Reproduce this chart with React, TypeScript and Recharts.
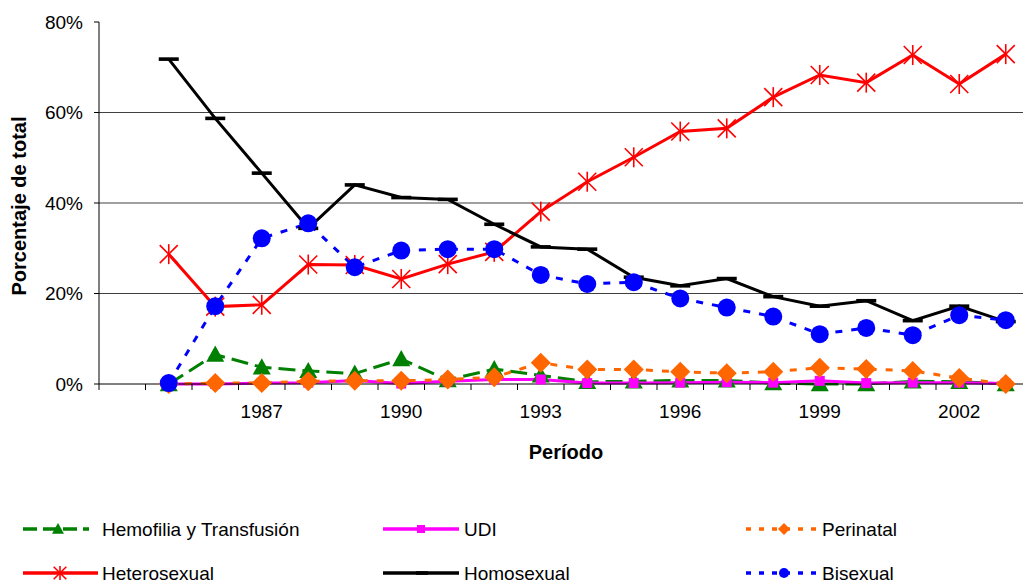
import React from 'react';
import { LineChart, Line, XAxis, YAxis, CartesianGrid } from 'recharts';

const YEARS = [1985, 1986, 1987, 1988, 1989, 1990, 1991, 1992, 1993, 1994, 1995, 1996, 1997, 1998, 1999, 2000, 2001, 2002, 2003];
const LABEL_YEARS = [1987, 1990, 1993, 1996, 1999, 2002];
const Y_TICKS = [0, 20, 40, 60, 80];
const GRID_VALUES = [20, 40, 60];

const HEMOFILIA = [0, 6.5, 3.7, 2.9, 2.3, 5.5, 0.9, 3.3, 1.9, 0.5, 0.6, 0.8, 0.8, 0.2, 0, 0, 0.6, 0.5, 0];
const UDI = [0, 0, 0.2, 0.3, 0.8, 0.1, 0.6, 1.0, 1.0, 0.2, 0.2, 0.3, 0.4, 0.3, 0.7, 0.2, 0.3, 0.3, 0.1];
const PERINATAL = [0, 0.2, 0.2, 0.6, 0.7, 0.7, 1.0, 1.5, 4.7, 3.2, 3.2, 2.7, 2.4, 2.7, 3.6, 3.3, 2.9, 1.3, 0];
const HETEROSEXUAL = [28.7, 17.1, 17.5, 26.4, 26.3, 23.2, 26.5, 29.2, 38.1, 44.7, 50.1, 55.8, 56.5, 63.4, 68.3, 66.6, 72.7, 66.3, 72.9];
const HOMOSEXUAL = [71.8, 58.7, 46.6, 34.4, 44.0, 41.2, 40.8, 35.3, 30.3, 29.8, 23.6, 21.7, 23.3, 19.3, 17.2, 18.4, 14.0, 17.2, 13.8];
const BISEXUAL = [0.2, 17.2, 32.2, 35.5, 25.8, 29.5, 29.8, 29.8, 24.1, 22.1, 22.5, 18.9, 16.9, 14.9, 11.0, 12.4, 10.8, 15.2, 14.1];

const data = YEARS.map((year, i) => ({
  year,
  hemofilia: HEMOFILIA[i],
  udi: UDI[i],
  perinatal: PERINATAL[i],
  hetero: HETEROSEXUAL[i],
  homo: HOMOSEXUAL[i],
  bi: BISEXUAL[i],
}));

const FONT = '"Liberation Sans", Arial, sans-serif';
const GREEN = '#008000';
const MAGENTA = '#FF00FF';
const ORANGE = '#FF6600';
const RED = '#FF0000';
const BLUE = '#0000FF';

// category boundaries (Excel-style ticks between categories)
const X_MIN = YEARS[0] - 1.5;
const X_MAX = YEARS[YEARS.length - 1] + 0.5;
const BOUNDARIES = Array.from({ length: X_MAX - X_MIN + 1 }, (_, i) => X_MIN + i);
const CAT_W = 46.5;

const Triangle = ({ cx, cy, s = 9, color = GREEN }: any) => (
  <polygon points={`${cx},${cy - s} ${cx - s},${cy + s * 0.8} ${cx + s},${cy + s * 0.8}`} fill={color} />
);
const Square = ({ cx, cy, s = 5 }: any) => <rect x={cx - s} y={cy - s} width={s * 2} height={s * 2} fill={MAGENTA} />;
const Diamond = ({ cx, cy, s = 10 }: any) => (
  <polygon points={`${cx},${cy - s} ${cx + s},${cy} ${cx},${cy + s} ${cx - s},${cy}`} fill={ORANGE} />
);
const Star = ({ cx, cy, s = 10 }: any) => (
  <g stroke={RED} strokeWidth={1.6}>
    <line x1={cx} y1={cy - s} x2={cx} y2={cy + s} />
    <line x1={cx - s * 0.9} y1={cy - s * 0.9} x2={cx + s * 0.9} y2={cy + s * 0.9} />
    <line x1={cx - s * 0.9} y1={cy + s * 0.9} x2={cx + s * 0.9} y2={cy - s * 0.9} />
  </g>
);
const Dash = ({ cx, cy, s = 10 }: any) => <rect x={cx - s} y={cy - 1.8} width={s * 2} height={3.6} fill="#000" />;
const Circle = ({ cx, cy, r = 9 }: any) => <circle cx={cx} cy={cy} r={r} fill={BLUE} />;

const dotOf = (Comp: any, name: string) => (props: any) => (
  <g key={`${name}-${props.index}`}>
    <Comp cx={props.cx} cy={props.cy} />
  </g>
);

const XTick = ({ x, y, payload }: any) => {
  const year = payload.value + 0.5;
  if (!LABEL_YEARS.includes(year)) return <g />;
  return (
    <text x={x + CAT_W / 2} y={y} dy="0.71em" textAnchor="middle" fontSize={19} fontFamily={FONT} fill="#000">
      {year}
    </text>
  );
};

const LegendItem = ({ x, y, x1, x2, mx, stroke, dash, Marker, label, tx }: any) => (
  <g>
    <line x1={x1} y1={y} x2={x2} y2={y} stroke={stroke} strokeWidth={3.5} strokeDasharray={dash} />
    <Marker cx={mx} cy={y} />
    <text x={tx} y={y} dominantBaseline="central" fontSize={19} fontFamily={FONT} fill="#000">
      {label}
    </text>
  </g>
);

export default function App() {
  return (
    <div style={{ position: 'fixed', left: 0, top: 0, width: 1023, height: 585, overflow: 'hidden', background: '#fff' }}>
      <div style={{ position: 'absolute', left: 0, top: 0 }}>
        <LineChart width={1045} height={585} data={data} margin={{ top: 22, right: 16, bottom: 171, left: 39 }}>
          <CartesianGrid horizontal vertical={false} horizontalValues={GRID_VALUES} stroke="#404040" strokeWidth={1} />
          <XAxis
            dataKey="year"
            type="number"
            domain={[X_MIN, X_MAX]}
            ticks={BOUNDARIES}
            interval={0}
            allowDataOverflow
            height={30}
            axisLine={{ stroke: '#000' }}
            tickLine={{ stroke: '#000' }}
            tickSize={6}
            tickMargin={15}
            tick={<XTick />}
          />
          <YAxis
            type="number"
            domain={[0, 80]}
            ticks={Y_TICKS}
            interval={0}
            width={60}
            axisLine={{ stroke: '#000' }}
            tickLine={{ stroke: '#000' }}
            tickSize={5}
            tickMargin={11}
            tickFormatter={(v: number) => `${v}%`}
            tick={{ fill: '#000', fontSize: 19, fontFamily: FONT }}
          />
          <Line type="linear" dataKey="hemofilia" stroke={GREEN} strokeWidth={3} strokeDasharray="17 7" dot={dotOf(Triangle, 'h')} isAnimationActive={false} />
          <Line type="linear" dataKey="udi" stroke={MAGENTA} strokeWidth={3} dot={dotOf(Square, 'u')} isAnimationActive={false} />
          <Line type="linear" dataKey="perinatal" stroke={ORANGE} strokeWidth={3} strokeDasharray="7 9" dot={dotOf(Diamond, 'p')} isAnimationActive={false} />
          <Line type="linear" dataKey="hetero" stroke={RED} strokeWidth={3} dot={dotOf(Star, 'he')} isAnimationActive={false} />
          <Line type="linear" dataKey="homo" stroke="#000" strokeWidth={3} dot={dotOf(Dash, 'ho')} isAnimationActive={false} />
          <Line type="linear" dataKey="bi" stroke={BLUE} strokeWidth={3} strokeDasharray="7 9" dot={dotOf(Circle, 'b')} isAnimationActive={false} />
        </LineChart>
      </div>
      <svg width={1023} height={585} style={{ position: 'absolute', left: 0, top: 0, pointerEvents: 'none' }}>
        <text x={26} y={206} transform="rotate(-90 26 206)" textAnchor="middle" fontSize={20} fontWeight="bold" fontFamily={FONT} fill="#000">
          Porcentaje de total
        </text>
        <text x={566} y={459} textAnchor="middle" fontSize={20} fontWeight="bold" fontFamily={FONT} fill="#000">
          Período
        </text>
        <LegendItem y={529} x1={23} x2={89} mx={58} stroke={GREEN} dash="14 6" Marker={(p: any) => <Triangle {...p} s={6} />} label="Hemofilia y Transfusión" tx={102} />
        <LegendItem y={529} x1={383} x2={459} mx={421} stroke={MAGENTA} Marker={(p: any) => <Square {...p} s={4} />} label="UDI" tx={464} />
        <LegendItem y={529} x1={746} x2={822} mx={784} stroke={ORANGE} dash="5 8" Marker={(p: any) => <Diamond {...p} s={6} />} label="Perinatal" tx={822} />
        <LegendItem y={573} x1={23} x2={98} mx={60} stroke={RED} Marker={(p: any) => <Star {...p} s={7} />} label="Heterosexual" tx={102} />
        <LegendItem y={573} x1={383} x2={459} mx={422} stroke="#000" Marker={(p: any) => <Dash {...p} s={6} />} label="Homosexual" tx={464} />
        <LegendItem y={573} x1={746} x2={822} mx={784} stroke={BLUE} dash="5 8" Marker={(p: any) => <Circle {...p} r={5} />} label="Bisexual" tx={822} />
      </svg>
    </div>
  );
}
